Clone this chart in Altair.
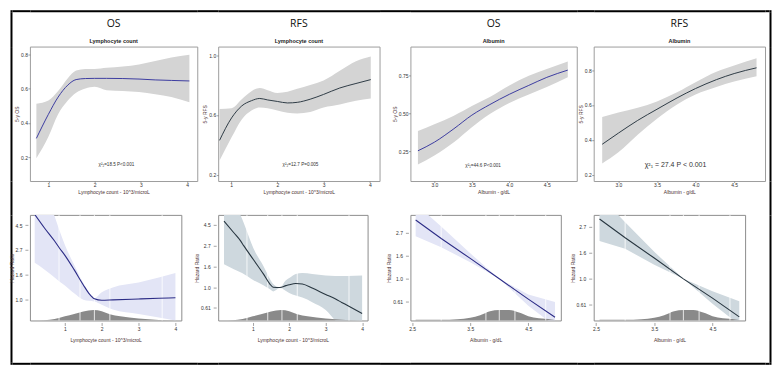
import altair as alt
import pandas as pd

FONT = "Liberation Sans"
HEAD_FONT = "Open Sans"

# ---------------- data: top row (5-year survival, fit + 95% band) ----------------
lym_os_x = [0.74, 1.00, 1.21, 1.42, 1.60, 1.80, 2.00, 2.26, 2.96, 3.31, 3.66, 4.05]
lym_os_fit = [0.31, 0.45, 0.55, 0.62, 0.652, 0.658, 0.659, 0.659, 0.655, 0.650, 0.647, 0.644]
lym_os_lo = [0.195, 0.32, 0.45, 0.53, 0.575, 0.600, 0.610, 0.590, 0.580, 0.567, 0.550, 0.520]
lym_os_hi = [0.512, 0.53, 0.585, 0.66, 0.705, 0.714, 0.714, 0.720, 0.740, 0.760, 0.780, 0.796]

lym_rfs_x = [0.75, 1.01, 1.23, 1.44, 1.62, 1.79, 2.00, 2.22, 2.43, 2.71, 3.00, 3.35, 3.70, 4.02]
lym_rfs_fit = [0.43, 0.58, 0.66, 0.695, 0.71, 0.70, 0.69, 0.68, 0.684, 0.705, 0.737, 0.78, 0.81, 0.836]
lym_rfs_lo = [0.295, 0.45, 0.57, 0.63, 0.65, 0.645, 0.63, 0.615, 0.61, 0.62, 0.65, 0.67, 0.695, 0.71]
lym_rfs_hi = [0.64, 0.645, 0.705, 0.758, 0.78, 0.765, 0.747, 0.755, 0.775, 0.80, 0.83, 0.895, 0.958, 0.99]

alb_os_x = [2.78, 3.00, 3.26, 3.50, 3.74, 4.00, 4.26, 4.50, 4.78]
alb_os_fit = [0.254, 0.311, 0.40, 0.49, 0.56, 0.628, 0.687, 0.74, 0.788]
alb_os_lo = [0.164, 0.223, 0.31, 0.41, 0.497, 0.57, 0.627, 0.676, 0.74]
alb_os_hi = [0.385, 0.43, 0.486, 0.55, 0.61, 0.687, 0.75, 0.796, 0.845]

alb_rfs_x = [2.79, 3.00, 3.25, 3.50, 3.76, 4.00, 4.27, 4.50, 4.79]
alb_rfs_fit = [0.374, 0.438, 0.511, 0.575, 0.64, 0.694, 0.745, 0.78, 0.813]
alb_rfs_lo = [0.264, 0.328, 0.429, 0.52, 0.603, 0.66, 0.703, 0.734, 0.764]
alb_rfs_hi = [0.53, 0.557, 0.584, 0.62, 0.672, 0.73, 0.79, 0.826, 0.868]

# test statistics printed in the top panels (text, x, y in data units)
stat_text = ["χ²₂=18.5  P<0.001", "χ²₂=12.7  P=0.005", "χ²₁=44.6  P<0.001", "χ²₁ = 27.4  P < 0.001"]
stat_x = [2.47, 2.50, 3.65, 3.74]
stat_y = [0.154, 0.263, 0.153, 0.255]

# ---------------- data: bottom row (log hazard ratio, fit + 95% band) ----------------
hrl_os_x = [0.18, 0.45, 0.72, 0.85, 1.00, 1.25, 1.50, 1.65, 1.80, 2.00, 2.30, 3.00, 3.55, 4.00]
hrl_os_fit = [1.72, 1.44, 1.18, 1.04, 0.89, 0.60, 0.29, 0.12, 0.01, -0.02, -0.013, 0.006, 0.02, 0.03]
hrl_os_lo = [0.74, 0.60, 0.44, 0.36, 0.28, 0.12, -0.01, -0.03, -0.045, -0.11, -0.21, -0.30, -0.37, -0.43]
hrl_os_hi = [2.60, 2.20, 1.68, 1.40, 1.10, 0.70, 0.33, 0.14, 0.02, 0.14, 0.24, 0.34, 0.44, 0.53]

hrl_rfs_x = [0.21, 0.48, 0.66, 0.75, 1.02, 1.29, 1.47, 1.56, 1.74, 1.91, 2.00, 2.18, 2.36, 2.63, 3.00, 3.26, 3.44, 3.60, 4.00]
hrl_rfs_fit = [1.59, 1.31, 1.12, 1.00, 0.66, 0.32, 0.076, 0.0, -0.008, 0.038, 0.06, 0.09, 0.076, -0.02, -0.175, -0.28, -0.365, -0.44, -0.63]
hrl_rfs_lo = [0.55, 0.43, 0.36, 0.32, 0.17, 0.05, -0.05, -0.10, -0.02, -0.09, -0.14, -0.20, -0.25, -0.36, -0.55, -0.80, -0.95, -1.05, -1.40]
hrl_rfs_hi = [2.40, 2.00, 1.74, 1.55, 0.93, 0.51, 0.20, 0.08, 0.0, 0.17, 0.22, 0.32, 0.34, 0.32, 0.28, 0.27, 0.27, 0.27, 0.28]

hra_os_x = [2.56, 3.00, 3.50, 4.00, 4.50, 4.96]
hra_os_fit = [1.27, 0.87, 0.44, 0.0, -0.44, -0.83]
hra_os_lo = [0.92, 0.68, 0.36, 0.0, -0.58, -1.02]
hra_os_hi = [1.62, 1.13, 0.55, 0.0, -0.34, -0.50]

hra_rfs_x = [2.56, 3.00, 3.50, 4.00, 4.50, 4.96]
hra_rfs_fit = [1.15, 0.79, 0.40, 0.0, -0.37, -0.73]
hra_rfs_lo = [0.73, 0.58, 0.27, 0.0, -0.48, -0.88]
hra_rfs_hi = [1.60, 1.09, 0.52, 0.0, -0.24, -0.43]

# covariate densities (relative height) and marker lines
lym_dens_x = [0.18, 0.45, 0.72, 1.00, 1.25, 1.50, 1.78, 2.00, 2.22, 2.50, 3.00, 3.55, 4.00]
lym_dens = [0.0, 0.03, 0.15, 0.40, 0.62, 0.85, 1.00, 0.88, 0.60, 0.40, 0.18, 0.04, 0.0]
alb_dens_x = [2.56, 3.00, 3.28, 3.50, 3.67, 3.84, 4.00, 4.17, 4.34, 4.50, 4.68, 4.90, 4.96]
alb_dens = [0.06, 0.06, 0.12, 0.26, 0.50, 0.88, 1.00, 1.00, 0.76, 0.41, 0.20, 0.09, 0.03]
lym_marks = [0.84, 1.41, 1.80, 2.22, 3.64]
alb_marks = [3.00, 3.77, 4.00, 4.27, 4.80]

# hazard-ratio axis: ticks at log(HR) steps of 0.5, labelled by HR
hr_tick_log = [-0.5, 0.0, 0.5, 1.0, 1.5]
hr_tick_lab = ["0.61", "1.0", "1.6", "2.7", "4.5"]

# ---------------- helpers ----------------
AX = dict(grid=False, domain=False, ticks=True, tickColor="#666", tickWidth=0.6,
          labelFont=FONT, labelFontSize=5, labelColor="#333", labelOverlap=False,
          labelFlush=False, titleFont=FONT, titleFontSize=5, titleFontWeight="normal",
          titleColor="#4a3030")
TOP_X = dict(tickSize=1.5, labelPadding=0.5, titlePadding=1.5, **AX)
TOP_Y = dict(tickSize=2, labelPadding=0.5, titlePadding=1, **AX)
BOT_X = dict(offset=2, tickSize=3, labelPadding=1.5, titlePadding=6, **AX)
BOT_Y = dict(offset=2, tickSize=3, labelPadding=3, titlePadding=1, **AX)


def head_title(head, sub):
    return alt.TitleParams(text=head, subtitle=sub, anchor="middle", font=HEAD_FONT, fontSize=10.5,
                           fontWeight="normal", color="#111", subtitleFont=FONT, subtitleFontSize=5.5,
                           subtitleFontWeight="bold", subtitleColor="#222", subtitlePadding=10, offset=2)


def top_panel(xs, fit, lo, hi, xdom, ydom, xticks, xfmt, yticks, yfmt, color, head, sub,
              ytitle, xtitle, k, stat_size, w, h):
    df = pd.DataFrame({"x": xs, "fit": fit, "lo": lo, "hi": hi})
    xsc = alt.Scale(domain=xdom, nice=False, zero=False)
    ysc = alt.Scale(domain=ydom, nice=False, zero=False)
    xa = alt.Axis(values=xticks, format=xfmt, title=xtitle, **TOP_X)
    ya = alt.Axis(values=yticks, format=yfmt, title=ytitle, **TOP_Y)
    base = alt.Chart(df)
    band = base.mark_area(color="#d4d4d4", interpolate="monotone", clip=True).encode(
        x=alt.X("x:Q", scale=xsc, axis=xa), y=alt.Y("lo:Q", scale=ysc, axis=ya), y2="hi:Q")
    line = base.mark_line(color=color, strokeWidth=1, interpolate="monotone", clip=True).encode(
        x="x:Q", y="fit:Q")
    adf = pd.DataFrame({"x": [stat_x[k]], "fit": [stat_y[k]], "t": [stat_text[k]]})
    txt = alt.Chart(adf).mark_text(font=FONT, fontSize=stat_size, color="#333").encode(
        x="x:Q", y="fit:Q", text="t:N")
    return alt.layer(band, line, txt).properties(
        width=w, height=h, title=head_title(head, sub),
        view=alt.ViewBackground(stroke="#9c9c9c", strokeWidth=1, fill="white"))


def bottom_panel(xs, fit, lo, hi, dx, dd, marks, xdom, ydom, xticks, xfmt, band_color, line_color,
                 xtitle, interp, w, h):
    df = pd.DataFrame({"x": xs, "fit": fit, "lo": lo, "hi": hi})
    ddf = pd.DataFrame({"x": dx, "d": dd})
    mdf = pd.DataFrame({"x": marks})
    xsc = alt.Scale(domain=xdom, nice=False, zero=False)
    ysc = alt.Scale(domain=ydom, nice=False, zero=False)
    yt = [v for v in hr_tick_log if ydom[0] <= v <= ydom[1]]
    expr = " : ".join(f"datum.value == {v} ? '{l}'" for v, l in zip(hr_tick_log, hr_tick_lab)) + " : ''"
    xa = alt.Axis(values=xticks, format=xfmt, title=xtitle, **BOT_X)
    ya = alt.Axis(values=yt, labelExpr=expr, title="Hazard Ratio", **BOT_Y)
    base = alt.Chart(df)
    band = base.mark_area(color=band_color, interpolate=interp, clip=True).encode(
        x=alt.X("x:Q", scale=xsc, axis=xa), y=alt.Y("lo:Q", scale=ysc, axis=ya), y2="hi:Q")
    dens = alt.Chart(ddf).mark_area(color="#8a8a8a", interpolate="monotone", clip=True).encode(
        x="x:Q", y=alt.Y("d:Q", scale=alt.Scale(domain=[0, 10]), axis=None))
    rules = alt.Chart(mdf).mark_rule(color="white", strokeWidth=0.8).encode(x="x:Q")
    line = base.mark_line(color=line_color, strokeWidth=1.1, interpolate=interp, clip=True).encode(
        x="x:Q", y=alt.Y("fit:Q", scale=ysc, axis=None))
    return alt.layer(band, dens, rules, line).resolve_scale(y="independent").properties(
        width=w, height=h, view=alt.ViewBackground(stroke="#8c8c8c", strokeWidth=1, fill="white"))


def cell(w, h, fill="transparent"):
    return alt.Chart(alt.Data(values=[])).mark_point().properties(
        width=w, height=h, view=alt.ViewBackground(stroke="transparent", fill=fill))


LYM_T = "Lymphocyte count - 10^3/microL"
ALB_T = "Albumin - g/dL"

# grid layout (column widths / row heights, pixels); panels are centred in their column
col_w = [2, 18, 168, 21, 162, 31, 167, 17, 172, 4, 2]
row_h = [2, 35, 135, 34, 106, 42, 2]
bot_w = [152, 150, 151, 152]

p1 = top_panel(lym_os_x, lym_os_fit, lym_os_lo, lym_os_hi, [0.60, 4.22], [0.062, 0.844], [1, 2, 3, 4], "d",
               [0.2, 0.4, 0.6, 0.8], ".1f", "#3c3ca0", "OS", "Lymphocyte count", "5-y OS", LYM_T, 0, 4.6,
               col_w[2], row_h[2])
p2 = top_panel(lym_rfs_x, lym_rfs_fit, lym_rfs_lo, lym_rfs_hi, [0.72, 4.21], [0.158, 1.057], [1, 2, 3, 4], "d",
               [0.2, 0.4, 0.6, 0.8, 1.0], ".1f", "#2e3b46", "RFS", "Lymphocyte count", "5-y RFS", LYM_T, 1, 4.6,
               col_w[4], row_h[2])
p3 = top_panel(alb_os_x, alb_os_fit, alb_os_lo, alb_os_hi, [2.68, 4.90], [0.054, 0.944], [3.0, 3.5, 4.0, 4.5], ".1f",
               [0.25, 0.5, 0.75], ".2f", "#3c3ca0", "OS", "Albumin", "5-y OS", ALB_T, 2, 4.6,
               col_w[6], row_h[2])
p4 = top_panel(alb_rfs_x, alb_rfs_fit, alb_rfs_lo, alb_rfs_hi, [2.68, 4.90], [0.163, 0.935], [3.0, 3.5, 4.0, 4.5], ".1f",
               [0.2, 0.4, 0.6, 0.8], ".1f", "#2e3b46", "RFS", "Albumin", "5-y RFS", ALB_T, 3, 7,
               col_w[8], row_h[2])

p5 = bottom_panel(hrl_os_x, hrl_os_fit, hrl_os_lo, hrl_os_hi, lym_dens_x, lym_dens, lym_marks,
                  [0.05, 4.16], [-0.43, 1.71], [1, 2, 3, 4], "d", "#e3e5f6", "#2c2c86", LYM_T, "monotone",
                  bot_w[0], row_h[4])
p6 = bottom_panel(hrl_rfs_x, hrl_rfs_fit, hrl_rfs_lo, hrl_rfs_hi, lym_dens_x, lym_dens, lym_marks,
                  [0.05, 4.15], [-0.80, 1.74], [1, 2, 3, 4], "d", "#ced8de", "#283640", LYM_T, "monotone",
                  bot_w[1], row_h[4])
p7 = bottom_panel(hra_os_x, hra_os_fit, hra_os_lo, hra_os_hi, alb_dens_x, alb_dens, alb_marks,
                  [2.47, 5.06], [-0.90, 1.38], [2.5, 3.0, 3.5, 4.0, 4.5, 5.0], ".1f", "#e3e5f6", "#2c2c86",
                  ALB_T, "linear", bot_w[2], row_h[4])
p8 = bottom_panel(hra_rfs_x, hra_rfs_fit, hra_rfs_lo, hra_rfs_hi, alb_dens_x, alb_dens, alb_marks,
                  [2.46, 5.06], [-0.80, 1.23], [2.5, 3.0, 3.5, 4.0, 4.5, 5.0], ".1f", "#ced8de", "#283640",
                  ALB_T, "linear", bot_w[3], row_h[4])

n = len(col_w)
panels_by_row = {2: [p1, p2, p3, p4], 4: [p5, p6, p7, p8]}

cells = []
for r, h in enumerate(row_h):
    for c, w in enumerate(col_w):
        if r in (0, len(row_h) - 1) or c in (0, n - 1):
            cells.append(cell(w, h, "black"))
        elif r in panels_by_row and c % 2 == 0:
            cells.append(panels_by_row[r][c // 2 - 1])
        else:
            cells.append(cell(w, h))

chart = alt.concat(*cells, columns=n, spacing=0, bounds="flush", align="each", center=True).properties(
    padding=0, background="white")

chart.save("out.html", embed_options={"renderer": "svg", "actions": False})
